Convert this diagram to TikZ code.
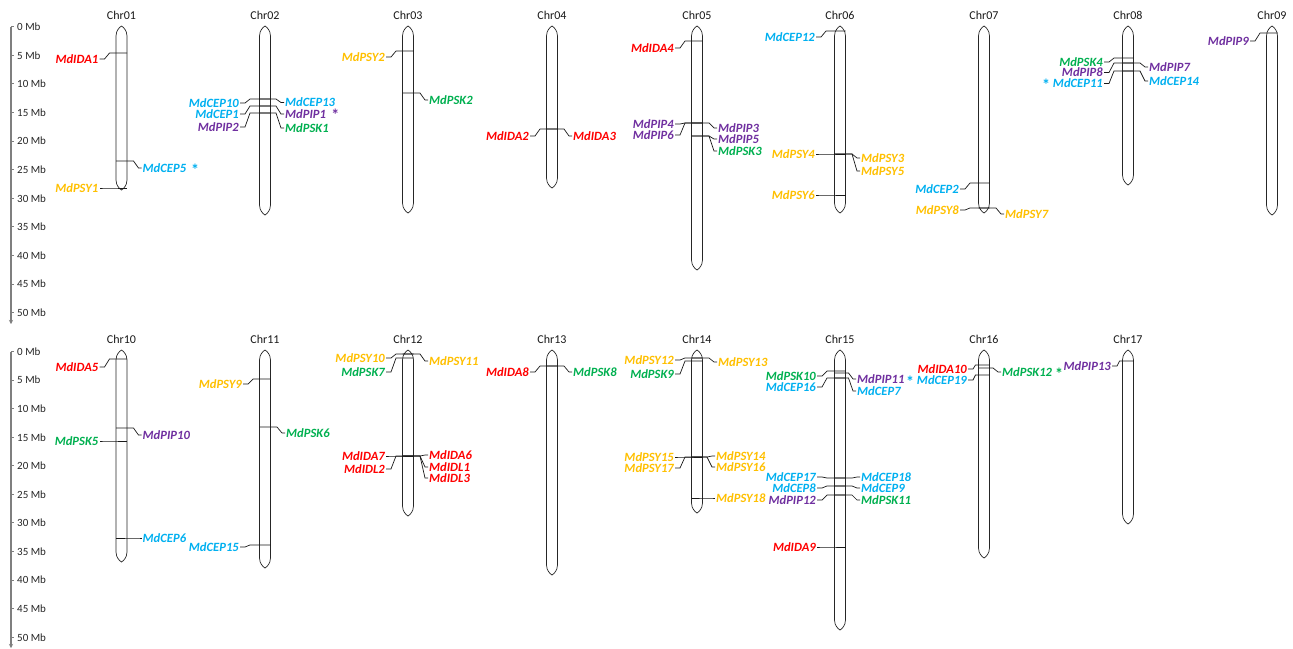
\documentclass[tikz,border=0pt]{standalone}
\usepackage{fontspec}
\setmainfont{Carlito}
\usetikzlibrary{arrows.meta}
\definecolor{cRed}{HTML}{FF0000}
\definecolor{cBlue}{HTML}{00B0F0}
\definecolor{cPurp}{HTML}{7030A0}
\definecolor{cGreen}{HTML}{00B050}
\definecolor{cOrange}{HTML}{FFC000}
\definecolor{axgray}{HTML}{7F7F7F}
\tikzset{
  chrline/.style={draw=black!85, line width=0.7pt},
  con/.style={draw=black!90, line width=0.7pt},
  lab/.style={font=\fontsize{12.6}{12.6}\selectfont\bfseries\itshape, inner xsep=1pt, inner ysep=0.5pt},
  chrlab/.style={font=\fontsize{12}{12}\selectfont, text=black!90, inner sep=1pt},
  axlab/.style={font=\fontsize{11}{11}\selectfont, text=black!85, inner sep=1pt, anchor=west},
  axisl/.style={draw=axgray, line width=1.2pt},
  astnode/.style={font=\fontsize{16}{16}\selectfont\bfseries, inner sep=0pt, anchor=west},
}
\newcommand{\astk}{\smash{\raisebox{-3pt}{\fontsize{16}{16}\selectfont\upshape *}}}
% name, cx, top, bottom
\newcommand{\chromo}[4]{%
  \draw[chrline] (#2-5.5,#3+10) .. controls (#2-5.5,#3+4) and (#2-1.5,#3+1) .. (#2,#3)
     .. controls (#2+1.5,#3+1) and (#2+5.5,#3+4) .. (#2+5.5,#3+10)
     -- (#2+5.5,#4-10) .. controls (#2+5.5,#4-4) and (#2+1.5,#4-1) .. (#2,#4)
     .. controls (#2-1.5,#4-1) and (#2-5.5,#4-4) .. (#2-5.5,#4-10) -- cycle;
  \node[chrlab] (#1) at (#2,#3-11) {#1};
}
% [label offset], id, cx, ygene, ylabel, colour, text
\newcommand{\gL}[7][22]{%
  \pgfmathsetmacro\eA{max(#1-10,8.5)}%
  \pgfmathsetmacro\eB{#1-5}%
  \node[lab,text=#6,anchor=east] (#2) at (#3-#1,#5) {#7};
  \coordinate (#2s) at (#3+5.5,#4);
  \draw[con] (#2s) -- (#3-\eA,#4) -- (#3-\eB,#5) -- (#2.east);
}
\newcommand{\gR}[7][20]{%
  \pgfmathsetmacro\eA{max(#1-8,8.5)}%
  \pgfmathsetmacro\eB{#1-3}%
  \node[lab,text=#6,anchor=west] (#2) at (#3+#1,#5) {#7};
  \coordinate (#2s) at (#3-5.5,#4);
  \draw[con] (#2s) -- (#3+\eA,#4) -- (#3+\eB,#5) -- (#2.west);
}
\begin{document}
\begin{tikzpicture}[x=1pt,y=-1pt]
\useasboundingbox (0,0) rectangle (1293,648);
\fill[white] (0,0) rectangle (1293,648);

% ---------- axes ----------
\draw[axisl,-{Stealth[length=4pt,width=4pt]}] (11,26.7) -- (11,324);
\foreach \k in {0,...,10}{
  \pgfmathsetmacro\yy{26.7+\k*28.6}
  \pgfmathtruncatemacro\mb{\k*5}
  \draw[axisl,line width=1pt] (11,\yy) -- (14,\yy);
  \node[axlab] (ta\k) at (16,\yy) {\mb\ Mb};
}
\draw[axisl,-{Stealth[length=4pt,width=4pt]}] (11,351.5) -- (11,648);
\foreach \k in {0,...,10}{
  \pgfmathsetmacro\yy{351.5+\k*28.58}
  \pgfmathtruncatemacro\mb{\k*5}
  \draw[axisl,line width=1pt] (11,\yy) -- (14,\yy);
  \node[axlab] (ba\k) at (16,\yy) {\mb\ Mb};
}

% ---------- top row ----------
\chromo{Chr01}{121.5}{26}{190}
\gL{IDAa}{121.5}{53}{59}{cRed}{MdIDA1}
\gR{CEPe}{121.5}{161}{168}{cBlue}{MdCEP5\hspace{5pt}\astk}
\gL{PSYa}{121.5}{188}{188}{cOrange}{MdPSY1}

\chromo{Chr02}{265}{26}{215}
\gL[25]{CEPj}{265}{99}{103}{cBlue}{MdCEP10}
\gR[19]{CEPm}{265}{99}{102.5}{cBlue}{MdCEP13}
\gL[25]{CEPa}{265}{106}{114}{cBlue}{MdCEP1}
\gR[19]{PIPa}{265}{106}{114}{cPurp}{MdPIP1}
\node[astnode,text=cPurp] (PIPast) at ([xshift=4pt,yshift=-1pt]PIPa.east) {*};
\gL[25]{PIPb}{265}{113}{127}{cPurp}{MdPIP2}
\gR[19]{PSKa}{265}{113}{128}{cGreen}{MdPSK1}

\chromo{Chr03}{408}{26}{213}
\gL{PSYb}{408}{51}{57}{cOrange}{MdPSY2}
\gR{PSKb}{408}{93}{100}{cGreen}{MdPSK2}

\chromo{Chr04}{552}{26}{188}
\gL{IDAb}{552}{129}{136}{cRed}{MdIDA2}
\gR{IDAc}{552}{129}{136}{cRed}{MdIDA3}

\chromo{Chr05}{697}{26}{270}
\gL{IDAd}{697}{41}{48}{cRed}{MdIDA4}
\gL{PIPd}{697}{123}{124}{cPurp}{MdPIP4}
\gL{PIPf}{697}{123}{135}{cPurp}{MdPIP6}
\gR{PIPc}{697}{123}{128}{cPurp}{MdPIP3}
\gR{PIPe}{697}{136}{139}{cPurp}{MdPIP5}
\gR{PSKc}{697}{136}{151}{cGreen}{MdPSK3}

\chromo{Chr06}{840}{26}{213}
\gL[24]{CEPl}{840}{31}{37}{cBlue}{MdCEP12}
\gL[24]{PSYd}{840}{154}{154}{cOrange}{MdPSY4}
\gR{PSYc}{840}{154}{158}{cOrange}{MdPSY3}
\gR{PSYe}{840}{154}{171}{cOrange}{MdPSY5}
\gL[24]{PSYf}{840}{195}{195}{cOrange}{MdPSY6}

\chromo{Chr07}{984}{26}{213}
\gL[24]{CEPb}{984}{183}{189}{cBlue}{MdCEP2}
\gL[24]{PSYh}{984}{208}{210}{cOrange}{MdPSY8}
\gR{PSYg}{984}{208}{214}{cOrange}{MdPSY7}

\chromo{Chr08}{1128}{26}{185}
\gL[24]{PSKd}{1128}{58}{62}{cGreen}{MdPSK4}
\gL[24]{PIPh}{1128}{63}{72.5}{cPurp}{MdPIP8}
\gL[24]{CEPk}{1128}{71}{83.5}{cBlue}{\astk\hspace{3pt}MdCEP11}
\gR{PIPg}{1128}{63}{67}{cPurp}{MdPIP7}
\gR{CEPn}{1128}{71}{81}{cBlue}{MdCEP14}

\chromo{Chr09}{1272}{26}{215}
\gL{PIPi}{1272}{33}{41}{cPurp}{MdPIP9}

% ---------- bottom row ----------
\chromo{Chr10}{121.5}{350}{562}
\gL{IDAe}{121.5}{359}{367}{cRed}{MdIDA5}
\gR{PIPj}{121.5}{428}{435}{cPurp}{MdPIP10}
\gL{PSKe}{121.5}{441}{441}{cGreen}{MdPSK5}
\gR{CEPf}{121.5}{538}{538}{cBlue}{MdCEP6}

\chromo{Chr11}{265}{350}{568}
\gL{PSYi}{265}{379}{384}{cOrange}{MdPSY9}
\gR{PSKf}{265}{427}{433}{cGreen}{MdPSK6}
\gL[25]{CEPo}{265}{545}{547}{cBlue}{MdCEP15}

\chromo{Chr12}{408}{350}{516}
\gL{PSYj}{408}{354}{358}{cOrange}{MdPSY10}
\gR{PSYk}{408}{354}{361}{cOrange}{MdPSY11}
\gL{PSKg}{408}{358}{372}{cGreen}{MdPSK7}
\gL{IDAg}{408}{456}{456}{cRed}{MdIDA7}
\gL{IDLb}{408}{456}{469}{cRed}{MdIDL2}
\gR{IDAf}{408}{456}{455}{cRed}{MdIDA6}
\gR{IDLa}{408}{456}{467}{cRed}{MdIDL1}
\gR{IDLc}{408}{456}{478}{cRed}{MdIDL3}

\chromo{Chr13}{552}{350}{575}
\gL{IDAh}{552}{366}{372}{cRed}{MdIDA8}
\gR{PSKh}{552}{366}{372}{cGreen}{MdPSK8}

\chromo{Chr14}{697}{350}{513}
\gL{PSYl}{697}{358}{360}{cOrange}{MdPSY12}
\gR{PSYm}{697}{358}{362}{cOrange}{MdPSY13}
\gL{PSKi}{697}{361}{374}{cGreen}{MdPSK9}
\gL{PSYo}{697}{457}{457}{cOrange}{MdPSY15}
\gL{PSYq}{697}{457}{468}{cOrange}{MdPSY17}
\gR[18]{PSYn}{697}{457}{456}{cOrange}{MdPSY14}
\gR[18]{PSYp}{697}{457}{467}{cOrange}{MdPSY16}
\gR[18]{PSYr}{697}{498}{498}{cOrange}{MdPSY18}

\chromo{Chr15}{840}{350}{630}
\gL[23]{PSKj}{840}{371}{376}{cGreen}{MdPSK10}
\gR[16]{PIPk}{840}{373}{379}{cPurp}{MdPIP11}
\gL[23]{CEPp}{840}{378}{387}{cBlue}{MdCEP16}
\gR[16]{CEPg}{840}{378}{391}{cBlue}{MdCEP7}
\gL[23]{CEPq}{840}{478}{477}{cBlue}{MdCEP17}
\gR{CEPr}{840}{478}{477}{cBlue}{MdCEP18}
\gL[23]{CEPh}{840}{486}{488}{cBlue}{MdCEP8}
\gR{CEPi}{840}{486}{488}{cBlue}{MdCEP9}
\gL[23]{PIPl}{840}{495}{500}{cPurp}{MdPIP12}
\gR{PSKk}{840}{495}{500}{cGreen}{MdPSK11}
\gL[23]{IDAi}{840}{547}{547}{cRed}{MdIDA9}

\chromo{Chr16}{984}{350}{558}
\gL[16]{IDAj}{984}{365}{369}{cRed}{MdIDA10}
\gR[17]{PSKl}{984}{368}{372}{cGreen}{MdPSK12\hspace{3pt}\astk}
\gL[16]{CEPs}{984}{375}{380}{cBlue}{\astk\hspace{3pt}MdCEP19}

\chromo{Chr17}{1128}{350}{524}
\gL[16]{PIPm}{1128}{361}{366}{cPurp}{MdPIP13}
\end{tikzpicture}
\end{document}
